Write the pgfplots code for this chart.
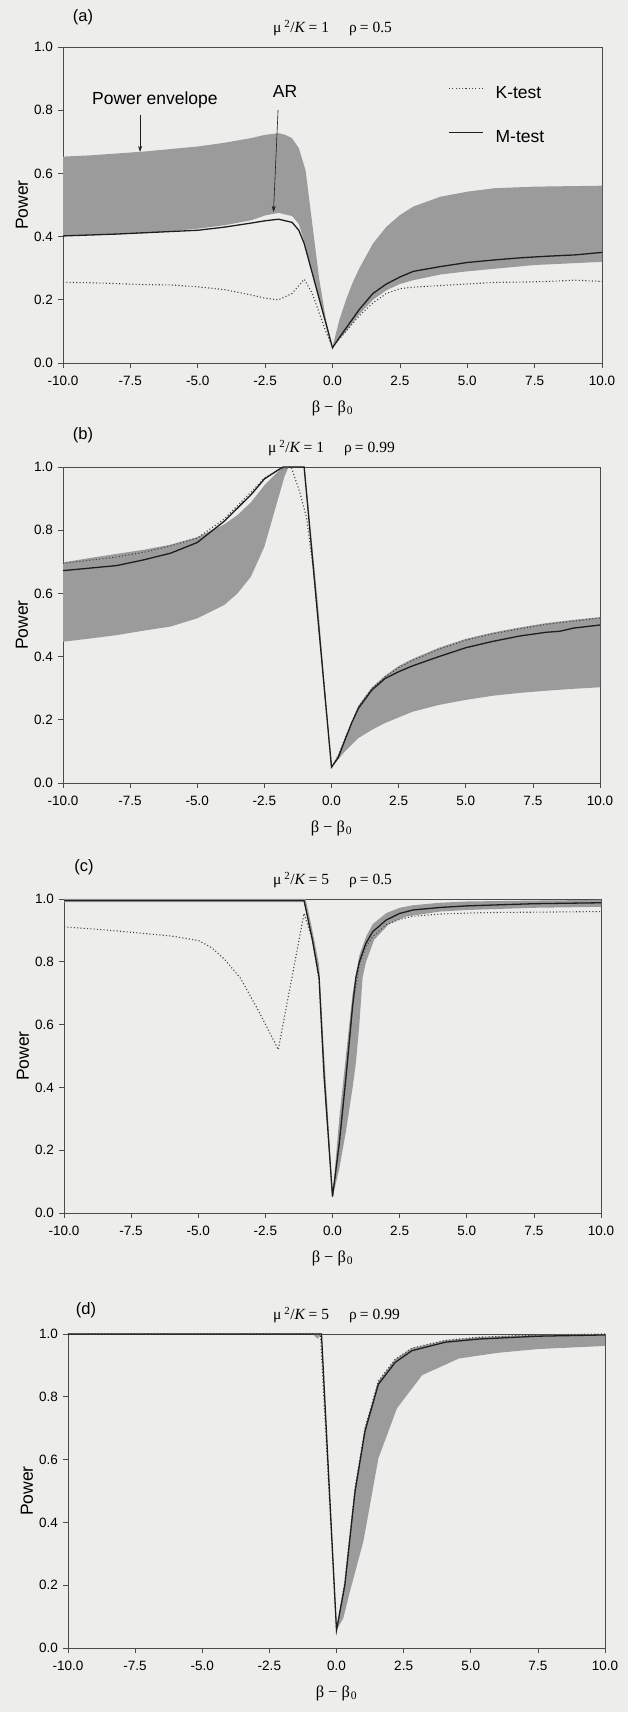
\documentclass[border=0pt]{standalone}
\usepackage{fontspec}
\setmainfont{Liberation Sans}
\newfontfamily\serif{Liberation Serif}
\usepackage{pgfplots}
\pgfplotsset{compat=1.18}
\usetikzlibrary{arrows.meta}
\definecolor{paper}{RGB}{237,237,235}
\definecolor{envgray}{RGB}{155,155,155}
\definecolor{inkline}{RGB}{30,30,30}
\definecolor{kgray}{RGB}{70,70,70}
\definecolor{axisgray}{RGB}{75,75,75}

\newcommand{\ticksize}{\fontsize{13.5}{15}\selectfont}
\newcommand{\annsize}{\fontsize{17.5}{20}\selectfont}

\pgfplotsset{
  panel/.style={
    scale only axis, width=538pt, height=316pt, anchor=south west,
    xmin=-10, xmax=10, ymin=0, ymax=1,
    xtick={-10,-7.5,-5,-2.5,0,2.5,5,7.5,10},
    ytick={0,0.2,0.4,0.6,0.8,1},
    tick align=outside, tick pos=left, major tick length=5pt,
    tick style={axisgray,line width=0.7pt},
    axis line style={axisgray,line width=0.8pt},
    tick label style={font=\ticksize},
    xticklabel style={yshift=-5pt},
    yticklabel style={xshift=-1.5pt},
    /pgf/number format/fixed, /pgf/number format/fixed zerofill,
    /pgf/number format/precision=1, /pgf/number format/assume math mode=true,
    clip=false,
  },
  env/.style={fill=envgray, draw=none, forget plot},
  mline/.style={inkline, line width=1.3pt},
  kline/.style={kgray, line width=1.1pt, dash pattern=on 1.1pt off 2.2pt},
}

% panel decorations: letter, title, y label, x label
\newcommand{\decor}[4]{%
  \node[font=\fontsize{16.5}{18}\selectfont] at ([xshift=#4pt,yshift=#3pt]rel axis cs:0,1) {(#1)};
  \node[font=\serif\fontsize{15.5}{17}\selectfont] at ([yshift=19pt]rel axis cs:0.5,1) {#2};
  \node[font=\annsize,rotate=90] at ([xshift=-41pt]rel axis cs:0,0.5) {Power};
  \node[font=\serif\fontsize{16.5}{18}\selectfont] at ([yshift=-45pt]rel axis cs:0.5,0) {β\hspace{4pt}−\hspace{4pt}β\textsubscript{\hspace{1pt}0}};
}
\newcommand{\ttl}[2]{μ\hspace{3pt}\textsuperscript{2}/\textit{K}\hspace{3pt}=\hspace{4pt}#1\hspace{20pt}ρ\hspace{3pt}=\hspace{4pt}#2}

\begin{document}
\begin{tikzpicture}
\fill[paper] (0pt,0pt) rectangle (628pt,1712pt);

% ---------------- (a) mu^2/K = 1, rho = 0.5
\begin{axis}[panel, at={(63pt,1349pt)}, width=539pt,
  legend style={draw=none, fill=none, font=\annsize, at={(axis cs:4.29,0.88)}, anchor=north west,
    inner sep=0pt, row sep=27pt, nodes={inner sep=0pt, text height=13pt, text depth=4pt},
    /tikz/every odd column/.append style={column sep=12pt}},
  legend cell align=left,
  legend image code/.code={\draw[#1] (0pt,5pt) -- (34pt,5pt);}]
\addplot[env] coordinates {
(-10,0.653) (-9,0.657) (-8,0.663) (-7,0.669) (-6,0.677) (-5,0.685) (-4,0.697) (-3,0.712)
(-2.5,0.722) (-2,0.727) (-1.75,0.722) (-1.5,0.711) (-1.25,0.68) (-1,0.61) (-0.75,0.44)
(-0.5,0.27) (-0.25,0.14) (0,0.05) (0.25,0.135) (0.5,0.2) (0.75,0.255) (1,0.30) (1.5,0.378)
(2,0.431) (2.5,0.468) (3,0.495) (4,0.526) (5,0.542) (6,0.553) (7.5,0.558) (10,0.561)
(10,0.32) (7.5,0.31) (5,0.29) (4,0.28) (3,0.262) (2.5,0.25) (2,0.23) (1.5,0.2) (1,0.155)
(0.5,0.1) (0.25,0.075) (0,0.05) (-0.25,0.127) (-0.5,0.205) (-0.75,0.284) (-1,0.37)
(-1.25,0.44) (-1.5,0.465) (-2,0.475) (-2.5,0.467) (-3,0.452) (-4,0.436) (-5,0.425)
(-6,0.417) (-7,0.411) (-8,0.407) (-10,0.402)} --cycle;
\addplot[kline] coordinates {
(-10,0.255) (-9,0.254) (-8,0.251) (-7,0.248) (-6,0.247) (-5,0.241) (-4,0.232) (-3,0.215)
(-2.5,0.205) (-2,0.2) (-1.5,0.22) (-1.25,0.245) (-1.05,0.265) (-0.75,0.22) (-0.5,0.16)
(-0.25,0.1) (0,0.05) (0.5,0.1) (1,0.15) (1.5,0.19) (2,0.22) (2.5,0.235) (3,0.24) (4,0.245)
(5,0.25) (6,0.255) (7,0.256) (8,0.258) (9,0.262) (10,0.258)};
\addlegendentry{K-test}
\addplot[mline] coordinates {
(-10,0.402) (-9,0.405) (-8,0.408) (-7,0.412) (-6,0.416) (-5,0.42) (-4,0.43) (-3,0.443)
(-2.5,0.45) (-2,0.455) (-1.5,0.445) (-1.25,0.42) (-1.05,0.378) (-0.75,0.284) (-0.5,0.205)
(-0.25,0.127) (0,0.048) (0.25,0.08) (0.5,0.11) (1,0.17) (1.5,0.22) (2,0.25) (2.5,0.272)
(3,0.29) (4,0.305) (5,0.318) (6,0.326) (7,0.333) (8,0.338) (9,0.342) (10,0.35)};
\addlegendentry{M-test}
\decor{a}{\ttl{1}{0.5}}{30}{20}
\node[font=\annsize] at (axis cs:-6.59,0.832) {Power envelope};
\draw[-{Stealth[length=6pt,width=4pt]},inkline,line width=0.6pt] (axis cs:-7.14,0.785) -- (axis cs:-7.14,0.668);
\node[font=\annsize] at (axis cs:-1.76,0.858) {AR};
\draw[-{Stealth[length=6pt,width=4pt]},inkline,line width=0.6pt] (axis cs:-2.02,0.80) -- (axis cs:-2.19,0.478);
\end{axis}

% ---------------- (b) mu^2/K = 1, rho = 0.99
\begin{axis}[panel, at={(63pt,929pt)}, width=537pt]
\addplot[env] coordinates {
(-10,0.698) (-9,0.712) (-8,0.725) (-7,0.738) (-6,0.754) (-5,0.778) (-4,0.818) (-3.5,0.848)
(-3,0.888) (-2.5,0.942) (-2,0.985) (-1.75,1.0) (-1.0,1.0) (-0.75,0.78) (-0.5,0.56)
(-0.2,0.25) (0,0.05) (0.25,0.09) (0.5,0.14) (0.75,0.19) (1,0.245) (1.5,0.302) (2,0.34)
(2.5,0.37) (3,0.392) (4,0.428) (5,0.456) (6,0.476) (7,0.492) (8,0.506) (9,0.516) (10,0.525)
(10,0.303) (9,0.298) (8,0.292) (7,0.285) (6,0.276) (5,0.263) (4,0.247) (3,0.225) (2,0.19)
(1.5,0.168) (1,0.142) (0.5,0.1) (0.25,0.075) (0,0.05) (-1.02,1.0) (-1.6,1.0) (-1.75,0.97)
(-2,0.896) (-2.5,0.748) (-3,0.653) (-3.5,0.6) (-4,0.563) (-5,0.521) (-6,0.495) (-7,0.482)
(-8,0.468) (-9,0.457) (-10,0.447)} --cycle;
\addplot[kline] coordinates {
(-10,0.695) (-9,0.705) (-8,0.715) (-7,0.73) (-6,0.75) (-5,0.775) (-4,0.835) (-3,0.92)
(-2.5,0.965) (-2,0.99) (-1.5,1.0) (-1.18,0.92) (-0.93,0.84) (-0.81,0.76) (-0.68,0.68)
(-0.5,0.515) (0,0.05) (0.25,0.085) (0.5,0.14) (0.75,0.19) (1,0.24) (1.5,0.298) (2,0.336)
(2.5,0.365) (3,0.387) (4,0.423) (5,0.452) (6,0.472) (7,0.488) (8,0.502) (9,0.512) (10,0.522)};
\addplot[mline] coordinates {
(-10,0.672) (-9,0.68) (-8,0.688) (-7,0.706) (-6,0.727) (-5,0.761) (-4,0.828) (-3.5,0.87)
(-3,0.912) (-2.5,0.962) (-2,0.99) (-1.8,1.0) (-1.02,1.0) (0,0.05) (0.25,0.08) (0.5,0.136)
(0.75,0.19) (1,0.236) (1.5,0.294) (2,0.331) (2.5,0.352) (3,0.37) (4,0.4) (5,0.428) (6,0.448)
(7,0.465) (8,0.477) (8.5,0.48) (9,0.49) (10,0.5)};
\decor{b}{\ttl{1}{0.99}}{32}{20}
\end{axis}

% ---------------- (c) mu^2/K = 5, rho = 0.5
\begin{axis}[panel, at={(64pt,499pt)}, width=537pt, height=314pt]
\addplot[env] coordinates {
(-10,1.0) (-1.0,1.0) (-0.75,0.9) (-0.5,0.79) (-0.31,0.5) (-0.19,0.34) (0,0.05) (0.25,0.3)
(0.5,0.5) (0.75,0.7) (1,0.82) (1.25,0.88) (1.5,0.92) (2,0.955) (2.5,0.972) (3,0.98)
(4,0.988) (5,0.992) (7.5,0.995) (10,0.997)
(10,0.975) (7.5,0.972) (5,0.965) (4,0.96) (2.73,0.944) (2.1,0.92) (1.55,0.87) (1.25,0.8)
(1.12,0.75) (1,0.6) (0.87,0.477) (0.75,0.4) (0.5,0.26) (0.25,0.14) (0,0.05) (-0.19,0.285)
(-0.31,0.43) (-0.5,0.75) (-0.75,0.87) (-1.06,0.99) (-10,0.99)} --cycle;
\addplot[kline] coordinates {
(-10,0.911) (-9,0.905) (-8,0.898) (-7,0.89) (-6,0.882) (-5,0.868) (-4.5,0.845) (-4,0.806)
(-3.43,0.748) (-2.84,0.657) (-2.39,0.583) (-2.02,0.52) (-1.06,0.954) (-0.75,0.87)
(-0.5,0.74) (-0.31,0.43) (-0.19,0.285) (0,0.052) (0.25,0.22) (0.5,0.44) (0.75,0.66)
(1,0.79) (1.25,0.85) (1.5,0.88) (2,0.918) (2.5,0.935) (3,0.945) (4,0.952) (5,0.955)
(6,0.957) (7.5,0.958) (10,0.96)};
\addplot[mline] coordinates {
(-10,0.995) (-1.06,0.995) (-0.75,0.87) (-0.5,0.75) (-0.31,0.43) (-0.19,0.285) (0,0.052)
(0.25,0.22) (0.5,0.43) (0.75,0.66) (0.87,0.75) (1,0.8) (1.25,0.86) (1.5,0.896) (2,0.933)
(2.5,0.954) (3,0.965) (4,0.973) (5,0.978) (7.5,0.985) (10,0.988)};
\decor{c}{\ttl{5}{0.5}}{32}{20}
\end{axis}

% ---------------- (d) mu^2/K = 5, rho = 0.99
\begin{axis}[panel, at={(68pt,64pt)}, width=537pt, height=314pt]
\addplot[env] coordinates {
(-10,1.0) (-0.56,1.0) (0,0.057) (0.31,0.21) (0.69,0.51) (1.06,0.70) (1.56,0.85) (2.19,0.92)
(2.81,0.955) (4.06,0.98) (5.31,0.99) (7.5,0.997) (10,1.0)
(10,0.962) (7.5,0.952) (6,0.94) (4.56,0.922) (3.19,0.869) (2.25,0.763) (1.56,0.604)
(1,0.339) (0.5,0.18) (0.25,0.094) (0,0.057) (-0.56,1.0) (-0.7,0.985) (-0.9,1.0) (-10,1.0)} --cycle;
\addplot[kline] coordinates {
(-10,1.0) (-0.6,1.0) (0,0.057) (0.31,0.21) (0.69,0.51) (1.06,0.7) (1.56,0.85) (2.19,0.92)
(2.81,0.955) (4.06,0.98) (5.31,0.99) (7.5,0.997) (10,1.0)};
\addplot[mline] coordinates {
(-10,1.0) (-0.56,1.0) (0,0.057) (0.31,0.2) (0.5,0.35) (0.69,0.498) (1.06,0.69) (1.56,0.84)
(2.19,0.91) (2.81,0.947) (4.06,0.974) (5.31,0.984) (7.5,0.993) (10,0.997)};
\decor{d}{\ttl{5}{0.99}}{24}{18}
\end{axis}
\end{tikzpicture}
\end{document}
